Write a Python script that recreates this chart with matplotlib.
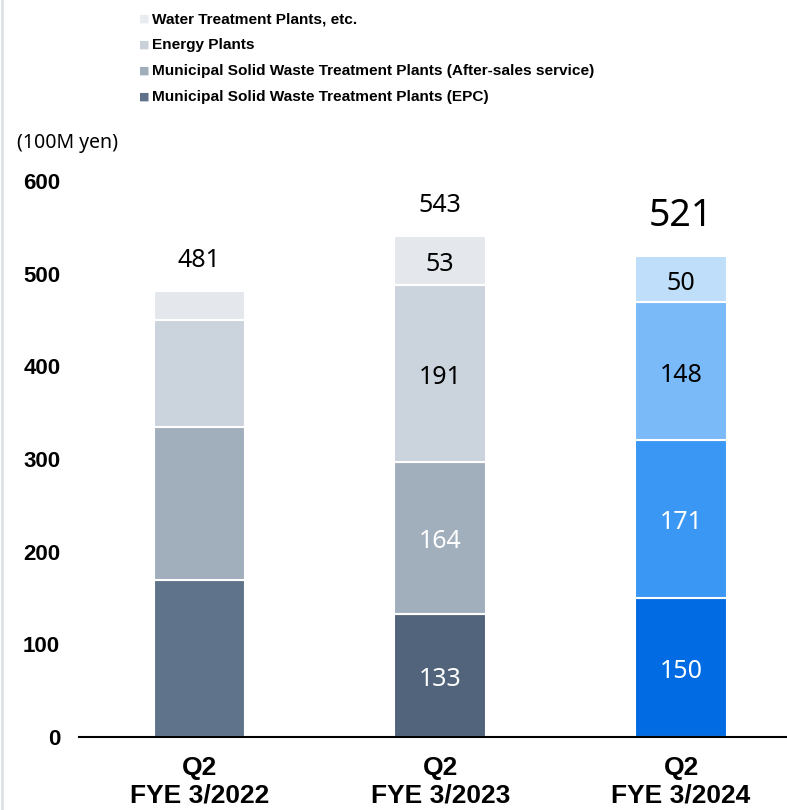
import matplotlib
matplotlib.use('Agg')
import matplotlib.pyplot as plt
from matplotlib.lines import Line2D
import numpy as np

# data (100M yen)
periods = ['Q2\nFYE 3/2022', 'Q2\nFYE 3/2023', 'Q2\nFYE 3/2024']
segments = ['Municipal Solid Waste Treatment Plants (EPC)',
            'Municipal Solid Waste Treatment Plants (After-sales service)',
            'Energy Plants',
            'Water Treatment Plants, etc.']
epc = [169, 133, 150]
after_sales = [165, 164, 171]
energy = [116, 191, 148]
water = [31, 53, 50]
totals = [481, 543, 521]
show_inner = [False, True, True]
yticks = [0, 100, 200, 300, 400, 500, 600]

# colours per period, bottom to top
colors = [
    ['#5f738a', '#a1aebc', '#cbd3dc', '#e4e8ed'],
    ['#52647b', '#a1aebc', '#cbd3dc', '#e4e8ed'],
    ['#006be2', '#3a97f3', '#7abaf9', '#bfdefa'],
]
text_colors = ['white', 'white', 'black', 'black']
legend_colors = ['#5f708a', '#a0adba', '#c9d0d9', '#e8ebef']

num_font = ['Noto Sans', 'DejaVu Sans']
bold_font = ['Liberation Sans', 'DejaVu Sans']

fig = plt.figure(figsize=(7.87, 8.10), dpi=100)
ax = fig.add_axes([79 / 787, 73 / 810, 1 - 79 / 787, 556 / 810])

x = np.arange(len(periods))
width = 0.38
stack = [epc, after_sales, energy, water]
bottom = np.zeros(len(periods))
for s, vals in enumerate(stack):
    for i in range(len(periods)):
        ax.bar(x[i], vals[i], width, bottom=bottom[i], color=colors[i][s],
               edgecolor='white', linewidth=1.5)
        if show_inner[i]:
            ax.annotate(str(vals[i]), (x[i], bottom[i] + vals[i] / 2), xytext=(0, -3),
                        textcoords='offset points', ha='center', va='center',
                        fontsize=18, color=text_colors[s], family=num_font)
    bottom = bottom + np.array(vals)

# totals above the bars
for i in range(len(periods)):
    big = i == len(periods) - 1
    ax.annotate(str(totals[i]), (x[i], bottom[i]), xytext=(0, 29 if big else 22),
                textcoords='offset points', ha='center', va='center',
                fontsize=27 if big else 18, family=num_font, annotation_clip=False)

ax.set_xlim(-0.5, 2.44)
ax.set_ylim(0, 600)
ax.set_yticks(yticks)
ax.set_yticklabels([str(t) for t in yticks], fontsize=16, fontweight='bold', family=bold_font)
ax.set_xticks(x)
ax.set_xticklabels(periods, fontsize=19, fontweight='bold', family=bold_font, linespacing=1.15)
ax.tick_params(axis='y', length=0, pad=13.5)
ax.tick_params(axis='x', length=0, pad=14)
for sp in ['top', 'right', 'left']:
    ax.spines[sp].set_visible(False)
ax.spines['bottom'].set_linewidth(1.5)
ax.spines['bottom'].set_color('black')

fig.text(17 / 787, 1 - 143 / 810, '(100M yen)', fontsize=14, family=num_font, va='center')

# legend (top entry first)
for k, s in enumerate(range(3, -1, -1)):
    ypos = 1 - (19 + 26 * k) / 810
    fig.text(139 / 787, ypos, '\u25a0', color=legend_colors[s], fontsize=8, va='center',
             family=['DejaVu Sans'])
    fig.text(152 / 787, ypos, segments[s], fontsize=11.1, fontweight='bold',
             family=bold_font, va='center')

# thin slide border on the left
fig.add_artist(Line2D([0.002, 0.002], [0, 1], color='#dde2e8', linewidth=2,
                      transform=fig.transFigure))

fig.savefig('out.png', dpi=100)
